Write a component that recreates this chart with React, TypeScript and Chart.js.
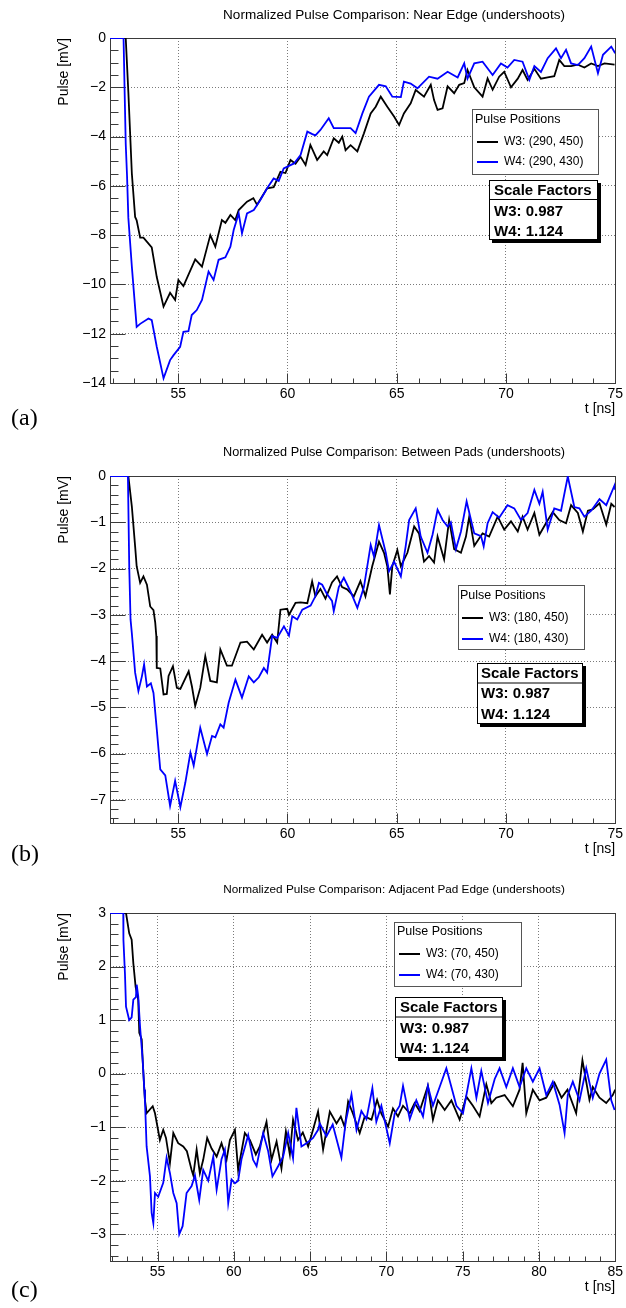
import React, { useEffect, useRef } from "react";
import { Chart, registerables } from "chart.js";

Chart.register(...registerables);

// ---------------- Shared texts ----------------
const legendHeader = "Pulse Positions";
const scaleHeader = "Scale Factors";
const scaleFactors = ["W3: 0.987", "W4: 1.124"];
const yAxisTitle = "Pulse [mV]";
const xAxisTitle = "t [ns]";

// ---------------- Panel (a) ----------------
const aTitle = "Normalized Pulse Comparison: Near Edge (undershoots)";
const aLegend = ["W3: (290, 450)", "W4: (290, 430)"];
const aXTicks = [55, 60, 65, 70, 75];
const aYTicks = [0, -2, -4, -6, -8, -10, -12, -14];
const aW3Time = [51.88,52.6,52.72,52.88,53.03,53.1,53.26,53.41,53.79,54.02,54.33,54.63,54.86,55.01,55.24,55.78,56.09,56.47,56.7,57.0,57.16,57.39,57.61,57.77,58.15,58.44,58.61,59.07,59.37,59.68,59.91,60.14,60.37,60.6,60.83,61.05,61.36,61.66,61.82,62.12,62.35,62.51,62.66,62.89,63.2,63.5,63.81,64.04,64.27,64.57,64.88,65.11,65.33,65.64,65.87,66.25,66.56,66.71,66.87,67.1,67.33,67.63,67.86,68.09,68.24,68.55,68.93,69.16,69.39,69.69,69.92,70.23,70.54,70.76,70.99,71.3,71.6,71.91,72.21,72.44,72.67,72.98,73.29,73.59,73.9,74.21,74.51,74.97];
const aW3Pulse = [0,0,-2.2,-5.5,-7.26,-7.4,-8.1,-8.1,-8.5,-9.7,-10.9,-10.34,-10.63,-9.82,-10.07,-8.98,-9.28,-8.0,-8.47,-7.39,-7.5,-7.18,-7.39,-6.98,-6.64,-6.5,-6.77,-6.1,-6.05,-5.43,-5.48,-4.95,-5.1,-4.82,-5.15,-4.34,-4.95,-4.6,-4.75,-4.07,-4.25,-4.0,-4.55,-4.35,-4.6,-3.87,-3.06,-2.79,-2.38,-2.79,-3.19,-3.53,-3.06,-2.65,-2.11,-2.38,-1.9,-2.52,-2.92,-2.85,-1.96,-2.24,-1.9,-1.83,-1.3,-2.0,-2.38,-1.64,-2.1,-1.57,-1.37,-2.0,-1.65,-1.3,-1.7,-1.25,-1.65,-1.6,-1.55,-0.89,-1.14,-1.14,-1.08,-1.2,-1.03,-1.14,-1.03,-1.08];
const aW4Time = [51.88,52.5,52.55,52.6,52.66,52.72,52.88,53.1,53.26,53.64,53.79,54.02,54.33,54.63,54.79,55.09,55.24,55.47,55.62,55.85,56.09,56.39,56.62,56.85,57.16,57.39,57.54,57.77,57.92,58.15,58.46,58.76,59.07,59.37,59.6,59.83,60.3,60.6,60.91,61.14,61.28,61.51,61.89,62.12,62.5,62.89,63.12,63.43,63.73,64.19,64.5,64.8,65.19,65.33,65.64,65.95,66.48,66.87,67.33,67.79,68.09,68.24,68.55,68.93,69.39,69.77,70.07,70.38,70.76,71.07,71.3,71.6,71.91,72.29,72.52,72.75,72.98,73.29,73.59,73.9,74.21,74.44,74.82,75.0];
const aW4Pulse = [0,0,-2.2,-4.3,-5.6,-7.3,-9.28,-11.72,-11.6,-11.38,-11.45,-12.53,-13.81,-13.07,-12.87,-12.53,-11.92,-11.9,-11.24,-11.04,-10.63,-9.48,-9.82,-9.0,-8.9,-8.47,-7.79,-7.12,-7.93,-7.12,-6.98,-6.57,-6.1,-5.7,-5.8,-5.29,-5.09,-4.75,-3.8,-3.9,-3.95,-3.73,-3.26,-3.66,-3.66,-3.66,-3.86,-3.06,-2.38,-1.9,-1.96,-2.38,-2.4,-1.77,-1.85,-2.04,-1.57,-1.65,-1.37,-1.6,-1.03,-1.65,-1.03,-0.96,-1.5,-1.03,-1.2,-0.89,-0.96,-1.7,-1.14,-1.38,-0.82,-0.42,-0.82,-0.48,-1.03,-1.1,-0.82,-0.35,-1.43,-0.68,-0.35,-0.62];

// ---------------- Panel (b) ----------------
const bTitle = "Normalized Pulse Comparison: Between Pads (undershoots)";
const bLegend = ["W3: (180, 450)", "W4: (180, 430)"];
const bXTicks = [55, 60, 65, 70, 75];
const bYTicks = [0, -1, -2, -3, -4, -5, -6, -7];
const bW3Time = [51.88,52.72,52.88,53.03,53.1,53.26,53.41,53.57,53.72,53.87,53.95,54.0,54.02,54.18,54.33,54.48,54.56,54.76,54.94,55.1,55.48,55.63,55.78,56.01,56.24,56.47,56.77,56.93,57.23,57.46,57.85,58.15,58.46,58.84,59.07,59.3,59.53,59.68,59.99,60.07,60.37,60.6,60.91,61.13,61.28,61.51,61.74,62.04,62.27,62.5,62.73,63.04,63.34,63.57,63.88,64.19,64.42,64.57,64.69,64.8,65.03,65.19,65.49,65.8,66.02,66.25,66.48,66.71,66.87,67.17,67.4,67.63,67.94,68.17,68.32,68.55,68.93,69.23,69.62,69.92,70.23,70.54,70.76,70.99,71.3,71.53,71.83,72.14,72.44,72.75,72.98,73.29,73.52,73.75,73.98,74.28,74.59,74.82,74.97];
const bW3Pulse = [0,0,-0.66,-1.52,-1.95,-2.31,-2.17,-2.35,-2.82,-2.9,-3.17,-3.46,-4.15,-4.16,-4.72,-4.71,-4.32,-4.11,-4.58,-4.6,-4.22,-4.55,-4.97,-4.58,-3.89,-4.43,-4.46,-3.75,-4.1,-4.1,-3.6,-3.58,-3.75,-3.43,-3.6,-3.43,-3.6,-2.89,-2.87,-3.0,-2.74,-2.73,-2.75,-2.28,-2.6,-2.44,-2.65,-2.3,-2.17,-2.4,-2.45,-2.6,-2.27,-2.6,-1.95,-1.42,-1.66,-1.95,-2.56,-1.95,-1.6,-1.95,-1.66,-1.09,-1.24,-1.85,-1.73,-1.87,-1.31,-1.8,-0.95,-1.58,-1.66,-1.31,-0.88,-1.51,-1.24,-1.31,-0.88,-1.16,-0.98,-1.2,-0.88,-1.16,-0.8,-1.27,-1.02,-0.78,-0.95,-1.02,-0.63,-0.8,-1.2,-0.75,-0.72,-0.59,-1.05,-0.6,-0.67];
const bW4Time = [51.88,52.7,52.76,52.82,52.88,53.03,53.18,53.34,53.44,53.57,53.75,53.87,54.02,54.18,54.41,54.63,54.86,55.1,55.33,55.56,55.71,56.01,56.32,56.55,56.7,56.93,57.08,57.31,57.62,57.92,58.23,58.46,58.69,58.92,59.07,59.3,59.53,59.84,60.07,60.22,60.45,60.68,61.06,61.28,61.44,61.59,61.81,62.04,62.12,62.35,62.58,62.89,63.2,63.5,63.81,63.96,64.19,64.5,64.65,64.88,65.19,65.41,65.57,65.87,66.1,66.41,66.64,66.87,67.1,67.33,67.48,67.71,67.94,68.2,68.4,68.55,68.86,68.98,69.16,69.39,69.69,70.07,70.38,70.69,70.99,71.3,71.53,71.68,71.91,72.21,72.52,72.83,73.13,73.36,73.59,73.9,74.28,74.59,74.97,75.0];
const bW4Pulse = [0,0,-1.95,-3.1,-3.4,-4.25,-4.65,-4.33,-4.07,-4.55,-4.48,-4.69,-5.47,-6.34,-6.47,-7.13,-6.59,-7.16,-6.62,-5.98,-6.26,-5.44,-6.01,-5.62,-5.65,-5.37,-5.44,-4.9,-4.4,-4.79,-4.33,-4.46,-4.35,-4.15,-4.25,-3.46,-3.5,-3.25,-3.45,-3.03,-3.1,-2.89,-2.8,-2.6,-2.31,-2.35,-2.55,-2.7,-2.92,-2.4,-2.2,-2.5,-2.85,-2.4,-1.49,-1.74,-1.06,-1.66,-2.06,-1.85,-2.17,-1.52,-0.95,-0.7,-1.31,-1.66,-1.27,-0.73,-0.95,-1.09,-1.0,-1.58,-1.2,-0.55,-0.95,-1.24,-1.3,-1.52,-1.02,-0.78,-0.9,-0.63,-0.7,-0.95,-0.8,-0.3,-0.6,-0.34,-1.16,-0.7,-0.75,-0.01,-0.67,-0.7,-0.88,-0.75,-0.5,-0.63,-0.2,-0.3];

// ---------------- Panel (c) ----------------
const cTitle = "Normalized Pulse Comparison: Adjacent Pad Edge (undershoots)";
const cLegend = ["W3: (70, 450)", "W4: (70, 430)"];
const cXTicks = [55, 60, 65, 70, 75, 80, 85];
const cYTicks = [3, 2, 1, 0, -1, -2, -3];
const cW3Time = [51.88,52.93,53.14,53.3,53.41,53.56,53.73,53.8,53.96,54.02,54.13,54.17,54.28,54.68,54.83,55.15,55.37,55.55,55.81,56.03,56.35,56.68,56.92,57.23,57.34,57.56,57.77,57.99,58.25,58.54,58.87,59.19,59.52,59.74,60.07,60.28,60.72,61.05,61.44,61.7,62.14,62.47,62.8,63.12,63.41,63.67,63.88,64.21,64.52,64.87,65.19,65.52,65.85,66.29,66.73,67.01,67.27,67.49,67.81,68.25,68.58,69.02,69.39,69.67,70.11,70.43,70.76,71.09,71.53,71.85,72.18,72.72,73.05,73.38,73.82,74.26,74.8,75.24,75.67,76.11,76.55,76.88,77.2,77.75,78.29,78.73,78.93,79.17,79.6,80.04,80.48,81.02,81.48,81.87,82.44,82.85,83.31,83.53,83.97,84.41,84.84,85.0];
const cW3Pulse = [3,3,2.62,2.5,2.06,1.62,1.38,0.76,0.64,0.26,-0.3,-0.49,-0.74,-0.61,-0.74,-1.24,-1.05,-1.2,-1.67,-1.11,-1.3,-1.36,-1.45,-1.8,-1.9,-1.42,-1.86,-1.61,-1.2,-1.4,-1.55,-1.3,-1.61,-1.24,-1.05,-1.8,-1.11,-1.24,-1.51,-1.36,-0.9,-1.61,-1.27,-1.77,-1.08,-1.51,-0.86,-1.24,-1.1,-1.36,-1.05,-0.71,-1.42,-0.71,-0.93,-0.8,-1.0,-0.52,-0.75,-1.11,-0.8,-0.86,-0.49,-0.75,-0.99,-0.65,-0.8,-0.6,-0.74,-0.55,-0.7,-0.23,-0.86,-0.5,-0.68,-0.5,-0.86,-0.43,-0.6,-0.8,-0.2,-0.55,-0.45,-0.4,-0.61,-0.3,0.2,-0.74,-0.3,-0.5,-0.45,-0.17,-0.45,-0.3,-0.74,0.25,-0.49,-0.25,-0.45,-0.55,-0.4,-0.3];
const cW4Time = [51.88,52.75,52.76,52.86,52.93,53.14,53.3,53.41,53.58,53.63,53.73,53.85,54.02,54.13,54.17,54.28,54.5,54.61,54.72,54.83,55.04,55.37,55.59,55.81,56.03,56.25,56.42,56.64,56.9,57.23,57.45,57.73,57.99,58.32,58.65,58.87,59.19,59.41,59.63,59.85,60.07,60.28,60.5,60.94,61.26,61.49,61.92,62.25,62.53,62.9,63.23,63.56,63.88,64.1,64.43,64.76,65.19,65.52,65.63,66.07,66.48,67.05,67.33,67.71,68.04,68.36,68.69,69.08,69.34,69.67,70.22,70.54,70.87,71.09,71.53,71.96,72.4,72.72,73.05,73.49,73.93,74.26,74.59,75.02,75.57,75.9,76.22,76.66,77.1,77.42,77.86,78.29,78.73,79.17,79.6,80.04,80.48,80.91,81.35,81.68,81.89,82.22,82.66,83.1,83.53,83.97,84.41,84.74,84.96];
const cW4Pulse = [3,3,2.5,1.87,1.25,1.0,1.05,1.38,1.43,1.66,1.45,0.88,0.26,-0.3,-0.49,-1.36,-1.92,-2.6,-2.79,-2.23,-2.3,-2.04,-1.57,-1.86,-2.23,-2.42,-3.0,-2.85,-2.23,-2.1,-1.9,-2.36,-1.8,-2.0,-1.55,-2.17,-1.6,-1.42,-2.42,-1.98,-2.05,-2.0,-1.6,-1.15,-1.61,-1.73,-1.11,-1.45,-1.92,-1.73,-1.55,-1.11,-1.58,-0.64,-1.36,-1.3,-1.2,-1.05,-0.93,-1.17,-0.95,-1.57,-0.9,-0.39,-1.05,-0.7,-0.85,-0.27,-0.9,-0.6,-1.3,-0.75,-0.6,-0.23,-0.85,-0.5,-0.8,-0.23,-0.6,-0.25,0.1,-0.25,-0.6,-0.74,0.1,-0.45,0.05,-0.55,-0.1,0.1,-0.25,0.1,-0.25,0.1,-0.15,0.1,-0.4,-0.15,-0.58,-1.11,-0.4,-0.15,-0.5,0.1,-0.45,0.0,0.26,-0.5,-0.68];

// ---------------- Styling / layout ----------------
const SANS = '"Liberation Sans", Arial, Helvetica, sans-serif';
const SERIF = '"Liberation Serif", "Times New Roman", serif';
const AXIS_COLOR = "#3a3a3a";
const GRID_COLOR = "#7a7a7a";
const W3_COLOR = "#000000";
const W4_COLOR = "#0000ff";
const TITLE_CX = 394;
const TITLE_W = 342;

type Box = { x: number; y: number; w: number; h: number; rows: number[]; textX: number; headX?: number; lineX?: number[]; sep?: number };

const panels = [
  {
    key: "a", top: 0, height: 436, padTop: 38, padBottom: 23, title: aTitle, titleY: 15, label: "(a)", labelY: 418.5,
    xMin: 51.88, xMax: 75, yMin: -14, yMax: 0, xTicks: aXTicks, yTicks: aYTicks, xMinor: 1, yMinor: 0.5,
    w3t: aW3Time, w3v: aW3Pulse, w4t: aW4Time, w4v: aW4Pulse, names: aLegend,
    legend: { x: 472, y: 109, w: 126, h: 65, rows: [120, 142, 162], headX: 475, lineX: [477, 498], textX: 504 } as Box,
    scale: { x: 489, y: 180, w: 109, h: 60, rows: [191, 211.5, 231.5], sep: 199.5, textX: 494 } as Box,
  },
  {
    key: "b", top: 436, height: 434, padTop: 40, padBottom: 17, title: bTitle, titleY: 16, label: "(b)", labelY: 419,
    xMin: 51.88, xMax: 75, yMin: -7.5, yMax: 0, xTicks: bXTicks, yTicks: bYTicks, xMinor: 1, yMinor: 0.2,
    w3t: bW3Time, w3v: bW3Pulse, w4t: bW4Time, w4v: bW4Pulse, names: bLegend,
    legend: { x: 458, y: 149, w: 126, h: 64, rows: [160, 182, 203], headX: 460, lineX: [462, 483], textX: 489 } as Box,
    scale: { x: 477, y: 227, w: 106, h: 61, rows: [238, 258, 279], sep: 247, textX: 481 } as Box,
  },
  {
    key: "c", top: 870, height: 438, padTop: 43, padBottom: 17, title: cTitle, titleY: 20, label: "(c)", labelY: 421,
    xMin: 51.88, xMax: 85, yMin: -3.5, yMax: 3, xTicks: cXTicks, yTicks: cYTicks, xMinor: 1, yMinor: 0.2,
    w3t: cW3Time, w3v: cW3Pulse, w4t: cW4Time, w4v: cW4Pulse, names: cLegend,
    legend: { x: 394, y: 52, w: 127, h: 64, rows: [62, 84, 105], headX: 397, lineX: [399, 420], textX: 426 } as Box,
    scale: { x: 395, y: 127, w: 108, h: 61, rows: [138, 159, 179], sep: 147, textX: 400 } as Box,
  },
];

function fmt(v: number): string {
  const r = Math.round(v * 1000) / 1000;
  return r < 0 ? "\u2212" + String(Math.abs(r)) : String(r);
}

function decorPlugin(p: any) {
  return {
    id: "decor_" + p.key,
    beforeDatasetsDraw(chart: any) {
      const { ctx, chartArea: a } = chart;
      const xs = chart.scales.x;
      const ys = chart.scales.y;
      const L = Math.round(a.left) + 0.5;
      const R = Math.round(a.right) + 0.5;
      const T = Math.round(a.top) + 0.5;
      const B = Math.round(a.bottom) + 0.5;
      ctx.save();
      ctx.strokeStyle = AXIS_COLOR;
      ctx.lineWidth = 1;
      ctx.beginPath();
      const xi0 = Math.ceil(xs.min / p.xMinor - 1e-6);
      const xi1 = Math.floor(xs.max / p.xMinor + 1e-6);
      for (let i = xi0; i <= xi1; i++) {
        const v = i * p.xMinor;
        const major = p.xTicks.some((t: number) => Math.abs(t - v) < 1e-6);
        const x = Math.round(xs.getPixelForValue(v)) + 0.5;
        ctx.moveTo(x, B);
        ctx.lineTo(x, B - (major ? 10 : 5));
      }
      const yi0 = Math.ceil(ys.min / p.yMinor - 1e-6);
      const yi1 = Math.floor(ys.max / p.yMinor + 1e-6);
      for (let i = yi0; i <= yi1; i++) {
        const v = i * p.yMinor;
        const major = p.yTicks.some((t: number) => Math.abs(t - v) < 1e-6);
        const y = Math.round(ys.getPixelForValue(v)) + 0.5;
        ctx.moveTo(L, y);
        ctx.lineTo(L + (major ? 15 : 8), y);
      }
      ctx.stroke();
      ctx.strokeRect(L, T, R - L, B - T);
      ctx.restore();
    },
    afterDraw(chart: any) {
      const { ctx, chartArea: a } = chart;
      ctx.save();
      ctx.fillStyle = "#000";
      // title, fitted to a fixed width
      ctx.font = `13px ${SANS}`;
      const tw = ctx.measureText(p.title).width;
      const ts = (13 * TITLE_W) / tw;
      ctx.font = `${ts.toFixed(2)}px ${SANS}`;
      ctx.textAlign = "center";
      ctx.textBaseline = "middle";
      ctx.fillText(p.title, TITLE_CX, p.titleY);
      // y axis title
      ctx.save();
      ctx.translate(64, a.top);
      ctx.rotate(-Math.PI / 2);
      ctx.font = `14px ${SANS}`;
      ctx.textAlign = "right";
      ctx.textBaseline = "middle";
      ctx.fillText(yAxisTitle, 0, 0);
      ctx.restore();
      // x axis title
      ctx.font = `14px ${SANS}`;
      ctx.textAlign = "right";
      ctx.textBaseline = "middle";
      ctx.fillText(xAxisTitle, a.right, a.bottom + 26);
      // legend box
      const lb: Box = p.legend;
      ctx.fillStyle = "#fff";
      ctx.fillRect(lb.x, lb.y, lb.w, lb.h);
      ctx.strokeStyle = "#555";
      ctx.lineWidth = 1;
      ctx.strokeRect(lb.x + 0.5, lb.y + 0.5, lb.w, lb.h);
      ctx.fillStyle = "#000";
      ctx.textAlign = "left";
      ctx.textBaseline = "middle";
      ctx.font = `12.5px ${SANS}`;
      ctx.fillText(legendHeader, lb.headX, lb.rows[0]);
      const cols = [W3_COLOR, W4_COLOR];
      ctx.font = `12px ${SANS}`;
      for (let i = 0; i < 2; i++) {
        const y = lb.rows[i + 1];
        ctx.strokeStyle = cols[i];
        ctx.lineWidth = 2;
        ctx.beginPath();
        ctx.moveTo(lb.lineX![0], y);
        ctx.lineTo(lb.lineX![1], y);
        ctx.stroke();
        ctx.fillText(p.names[i], lb.textX, y);
      }
      // scale factor box with shadow
      const sb: Box = p.scale;
      ctx.fillStyle = "#000";
      ctx.fillRect(sb.x + 3, sb.y + 3, sb.w, sb.h);
      ctx.fillStyle = "#fff";
      ctx.fillRect(sb.x, sb.y, sb.w, sb.h);
      ctx.strokeStyle = "#000";
      ctx.lineWidth = 1;
      ctx.strokeRect(sb.x + 0.5, sb.y + 0.5, sb.w - 1, sb.h - 1);
      ctx.beginPath();
      ctx.moveTo(sb.x, sb.sep!);
      ctx.lineTo(sb.x + sb.w, sb.sep!);
      ctx.stroke();
      ctx.fillStyle = "#000";
      ctx.font = `bold 15px ${SANS}`;
      ctx.fillText(scaleHeader, sb.textX, sb.rows[0]);
      ctx.fillText(scaleFactors[0], sb.textX, sb.rows[1]);
      ctx.fillText(scaleFactors[1], sb.textX, sb.rows[2]);
      // panel label
      ctx.font = `24px ${SERIF}`;
      ctx.fillText(p.label, 11, p.labelY);
      ctx.restore();
    },
  };
}

function Panel({ p }: { p: any }) {
  const ref = useRef<HTMLCanvasElement>(null);
  useEffect(() => {
    const mk = (ts: number[], vs: number[]) => ts.map((t, i) => ({ x: t, y: vs[i] }));
    const tickFont = { family: SANS, size: 14 };
    const chart = new Chart(ref.current as HTMLCanvasElement, {
      type: "line",
      data: {
        datasets: [
          { label: p.names[0], data: mk(p.w3t, p.w3v), borderColor: W3_COLOR, borderWidth: 1.8, pointRadius: 0, fill: false, tension: 0, order: 2 },
          { label: p.names[1], data: mk(p.w4t, p.w4v), borderColor: W4_COLOR, borderWidth: 1.8, pointRadius: 0, fill: false, tension: 0, order: 1 },
        ],
      },
      options: {
        responsive: false,
        animation: false,
        devicePixelRatio: 1,
        layout: { padding: { left: 0, right: 10, top: p.padTop, bottom: p.padBottom } },
        plugins: { legend: { display: false }, tooltip: { enabled: false }, title: { display: false } },
        scales: {
          x: {
            type: "linear",
            min: p.xMin,
            max: p.xMax,
            afterBuildTicks: (s: any) => { s.ticks = p.xTicks.map((v: number) => ({ value: v })); },
            afterFit: (s: any) => { s.height = 30; },
            grid: { color: GRID_COLOR, lineWidth: 1, drawTicks: false },
            border: { display: false, dash: [1, 2] },
            ticks: { padding: 3, color: "#000", font: tickFont, maxRotation: 0, autoSkip: false, callback: (v: any) => fmt(Number(v)) },
          },
          y: {
            type: "linear",
            min: p.yMin,
            max: p.yMax,
            afterBuildTicks: (s: any) => { s.ticks = p.yTicks.map((v: number) => ({ value: v })); },
            afterFit: (s: any) => { s.width = 110; },
            grid: { color: GRID_COLOR, lineWidth: 1, drawTicks: false },
            border: { display: false, dash: [1, 2] },
            ticks: { padding: 4, color: "#000", font: tickFont, autoSkip: false, callback: (v: any) => fmt(Number(v)) },
          },
        },
      } as any,
      plugins: [decorPlugin(p)],
    });
    return () => chart.destroy();
  }, [p]);
  return (
    <canvas
      ref={ref}
      width={626}
      height={p.height}
      style={{ position: "absolute", left: 0, top: p.top, display: "block" }}
    />
  );
}

export default function App() {
  return (
    <div style={{ position: "absolute", left: 0, top: 0, width: 626, height: 1308, background: "#fff", overflow: "hidden" }}>
      {panels.map((p) => (
        <Panel key={p.key} p={p} />
      ))}
    </div>
  );
}
